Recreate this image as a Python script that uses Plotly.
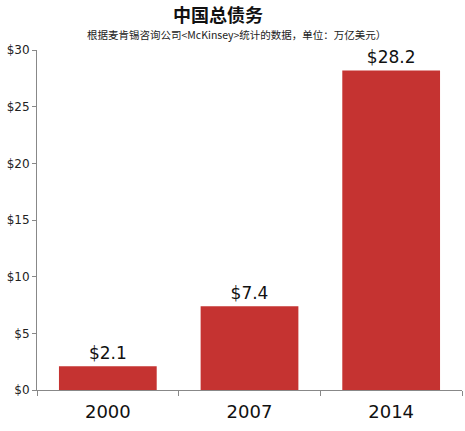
import plotly.graph_objects as go

years = ["2000", "2007", "2014"]
debt = [2.1, 7.4, 28.2]
labels = ["$2.1", "$7.4", "$28.2"]
tick_vals = [0, 5, 10, 15, 20, 25, 30]
tick_text = ["$0", "$5", "$10", "$15", "$20", "$25", "$30"]

fig = go.Figure(go.Bar(
    x=years, y=debt, text=labels, textposition="outside",
    textfont=dict(family="DejaVu Sans", size=17, color="#111111"),
    marker=dict(color="#c53331", line=dict(width=0)),
    cliponaxis=False,
))

fig.update_layout(
    width=465, height=431,
    margin=dict(l=37, r=3, t=50, b=41),
    paper_bgcolor="white", plot_bgcolor="white",
    bargap=0.31,
    showlegend=False,
    annotations=[
        dict(
            text="<b>中国总债务</b>",
            xref="paper", yref="paper", x=0.426, y=1.0, yshift=22,
            xanchor="center", yanchor="bottom", showarrow=False,
            borderpad=0,
            font=dict(family="Noto Sans CJK SC", size=18, color="#111111"),
        ),
        dict(
            text="根据麦肯锡咨询公司&lt;McKinsey&gt;统计的数据，单位：万亿美元）",
            xref="paper", yref="paper", x=0.47, y=1.0, yshift=7,
            xanchor="center", yanchor="bottom", showarrow=False,
            borderpad=0,
            font=dict(family="Noto Sans CJK SC", size=10.5, color="#222222"),
        ),
    ],
    xaxis=dict(
        type="category", showline=True, linecolor="#888888", linewidth=1,
        ticks="outside", tickson="boundaries", ticklen=5, tickcolor="#888888",
        tickfont=dict(family="DejaVu Sans", size=18, color="#111111"),
        ticklabelstandoff=5,
        showgrid=False,
    ),
    yaxis=dict(
        range=[0, 30], tickvals=tick_vals, ticktext=tick_text,
        showline=True, linecolor="#888888", linewidth=1,
        ticks="outside", ticklen=4, tickcolor="#888888",
        tickfont=dict(family="DejaVu Sans", size=12, color="#222222"),
        showgrid=False, zeroline=False,
    ),
)

fig.write_html(
    "out.html",
    config={"displayModeBar": False},
    post_script="document.body.style.margin='0';document.body.style.padding='0';",
)
